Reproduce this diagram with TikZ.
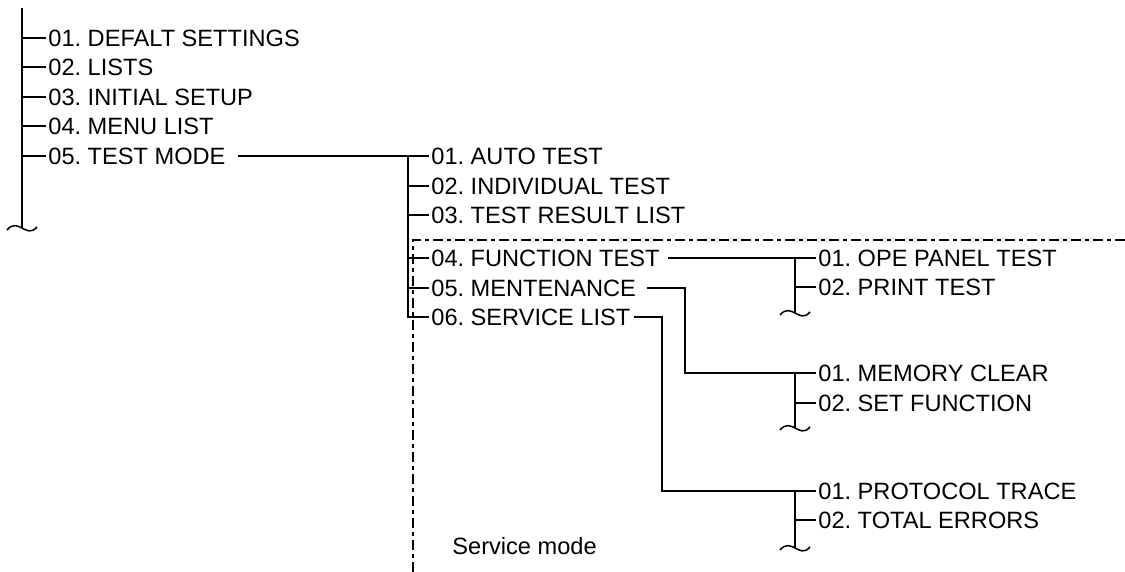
\documentclass[tikz,border=0pt]{standalone}
\usepackage{fontspec}
\setmainfont{Liberation Sans}

\tikzset{cutoff/.pic={\draw[tree] (-15,2) .. controls (-9,-5) and (-4,-2) .. (0,0) .. controls (4,2) and (9,6) .. (15,-1);}}

\begin{document}
\begin{tikzpicture}[x=0.5pt,y=-0.5pt,
    item/.style ={anchor=west, inner xsep=1pt, inner ysep=0pt, text height=8.3pt, text depth=0pt, font=\frenchspacing\fontsize{11.8}{13}\selectfont},
    tree/.style ={line width=0.75pt},
    frame/.style ={line width=0.7pt, dash pattern=on 5pt off 2pt on 2pt off 2pt}]
   \useasboundingbox (0,0) rectangle (1125,572);
   % top menu
   \coordinate (t1top) at (22,8);
   \coordinate (t1end) at (22,228);
   \node[item] (m1) at (46,38)  {01. DEFALT SETTINGS};
   \node[item] (m2) at (46,67)  {02. LISTS};
   \node[item] (m3) at (46,97)  {03. INITIAL SETUP};
   \node[item] (m4) at (46,126) {04. MENU LIST};
   \node[item] (m5) at (46,156) {05. TEST MODE};
   \draw[tree] (t1top) to (t1end);
   \foreach \i in {1,...,5}
     \draw[tree] (m\i.west -| t1top) to (m\i.west);
   \pic at (t1end) {cutoff};
   % test mode
   \coordinate (j0) at (238,156);
   \coordinate (t2top) at (408,156);
   \node[item] (s1) at (429,156) {01. AUTO TEST};
   \node[item] (s2) at (429,186) {02. INDIVIDUAL TEST};
   \node[item] (s3) at (429,215) {03. TEST RESULT LIST};
   \node[item] (s4) at (429,258) {04. FUNCTION TEST};
   \node[item] (s5) at (429,288) {05. MENTENANCE};
   \node[item] (s6) at (429,317) {06. SERVICE LIST};
   \draw[tree] (j0) to (s1.west);
   \draw[tree] (t2top) -- (s6.west -| t2top) -- (s6.west);
   \foreach \i in {2,...,5}
     \draw[tree] (s\i.west -| t2top) to (s\i.west);
   % service mode frame
   \coordinate (fr1) at (1125,240);
   \coordinate (fr2) at (413,240);
   \coordinate (fr3) at (413,572);
   \draw[frame] (fr1) -- (fr2) -- (fr3);
   \node[item] (svc) at (450,546) {Service mode};
   % function test
   \coordinate (j4) at (668,258);
   \coordinate (fend) at (795,313);
   \node[item] (f1) at (816,258) {01. OPE PANEL TEST};
   \node[item] (f2) at (816,287) {02. PRINT TEST};
   \draw[tree] (j4) to (f1.west);
   \draw[tree] (f1.west -| fend) to (fend);
   \draw[tree] (f2.west -| fend) to (f2.west);
   \pic at (fend) {cutoff};
   % mentenance
   \coordinate (j5) at (647,288);
   \coordinate (k5) at (685,373);
   \coordinate (cend) at (795,428);
   \node[item] (c1) at (816,373) {01. MEMORY CLEAR};
   \node[item] (c2) at (816,403) {02. SET FUNCTION};
   \draw[tree] (j5) -| (k5) -- (c1.west);
   \draw[tree] (c1.west -| cend) to (cend);
   \draw[tree] (c2.west -| cend) to (c2.west);
   \pic at (cend) {cutoff};
   % service list
   \coordinate (j6) at (634,317);
   \coordinate (k6) at (662,491);
   \coordinate (pend) at (795,548);
   \node[item] (p1) at (816,491) {01. PROTOCOL TRACE};
   \node[item] (p2) at (816,520) {02. TOTAL ERRORS};
   \draw[tree] (j6) -| (k6) -- (p1.west);
   \draw[tree] (p1.west -| pend) to (pend);
   \draw[tree] (p2.west -| pend) to (p2.west);
   \pic at (pend) {cutoff};
 \end{tikzpicture}
\end{document}
